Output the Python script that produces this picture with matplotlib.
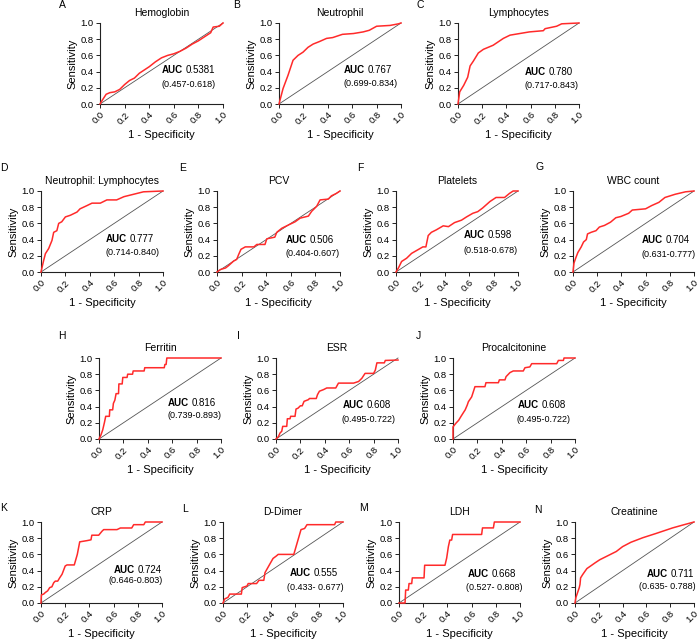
import matplotlib
matplotlib.use("Agg")
import matplotlib.pyplot as plt

plt.rcParams['font.family'] = ['Liberation Sans', 'DejaVu Sans']

# ROC data (1 - specificity, sensitivity)
hb_fpr = [0, 0.02, 0.05, 0.08, 0.12, 0.16, 0.2, 0.24, 0.28, 0.32, 0.36, 0.4, 0.45, 0.5, 0.55, 0.6, 0.65, 0.7, 0.75, 0.8, 0.85, 0.9, 0.92, 0.97, 1.0]
hb_tpr = [0, 0.05, 0.12, 0.14, 0.15, 0.18, 0.24, 0.29, 0.32, 0.38, 0.42, 0.46, 0.52, 0.57, 0.6, 0.62, 0.65, 0.69, 0.74, 0.78, 0.83, 0.88, 0.95, 0.96, 1.0]

neu_fpr = [0, 0.033, 0.074, 0.115, 0.156, 0.197, 0.238, 0.28, 0.33, 0.39, 0.44, 0.52, 0.61, 0.69, 0.74, 0.8, 0.91, 0.98, 1.0]
neu_tpr = [0, 0.19, 0.355, 0.54, 0.6, 0.64, 0.7, 0.74, 0.77, 0.81, 0.82, 0.86, 0.87, 0.89, 0.91, 0.96, 0.97, 0.99, 1.0]

lym_fpr = [0, 0.014, 0.047, 0.08, 0.1, 0.127, 0.168, 0.21, 0.29, 0.375, 0.43, 0.51, 0.59, 0.705, 0.72, 0.815, 0.857, 1.0]
lym_tpr = [0, 0.15, 0.23, 0.33, 0.47, 0.53, 0.63, 0.675, 0.725, 0.81, 0.85, 0.87, 0.89, 0.905, 0.93, 0.96, 0.99, 1.0]

nlr_fpr = [0, 0.022, 0.036, 0.063, 0.09, 0.104, 0.13, 0.145, 0.17, 0.2, 0.24, 0.295, 0.32, 0.377, 0.418, 0.486, 0.54, 0.62, 0.68, 0.76, 0.84, 1.0]
nlr_tpr = [0, 0.144, 0.226, 0.29, 0.39, 0.49, 0.51, 0.6, 0.62, 0.68, 0.7, 0.74, 0.78, 0.82, 0.85, 0.85, 0.89, 0.89, 0.93, 0.96, 0.99, 1.0]

pcv_fpr = [0, 0.027, 0.07, 0.095, 0.135, 0.16, 0.176, 0.195, 0.23, 0.3, 0.324, 0.39, 0.405, 0.47, 0.486, 0.527, 0.58, 0.635, 0.676, 0.743, 0.77, 0.81, 0.838, 0.905, 0.93, 0.97, 1.0]
pcv_tpr = [0, 0.03, 0.05, 0.08, 0.135, 0.155, 0.216, 0.28, 0.31, 0.31, 0.34, 0.34, 0.41, 0.43, 0.49, 0.54, 0.58, 0.62, 0.665, 0.69, 0.75, 0.81, 0.89, 0.9, 0.94, 0.97, 1.0]

plt_fpr = [0, 0.02, 0.046, 0.087, 0.128, 0.18, 0.22, 0.245, 0.264, 0.29, 0.33, 0.387, 0.43, 0.48, 0.537, 0.578, 0.63, 0.67, 0.71, 0.77, 0.82, 0.89, 0.93, 0.96, 1.0]
plt_tpr = [0, 0.05, 0.13, 0.17, 0.23, 0.275, 0.31, 0.31, 0.45, 0.49, 0.52, 0.57, 0.56, 0.61, 0.64, 0.68, 0.725, 0.745, 0.79, 0.87, 0.92, 0.92, 0.97, 1.0, 1.0]

wbc_fpr = [0, 0.008, 0.022, 0.04, 0.068, 0.087, 0.11, 0.12, 0.15, 0.19, 0.218, 0.26, 0.31, 0.354, 0.395, 0.46, 0.49, 0.6, 0.65, 0.71, 0.76, 0.845, 0.93, 1.0]
wbc_tpr = [0, 0.11, 0.17, 0.24, 0.31, 0.37, 0.4, 0.47, 0.49, 0.51, 0.555, 0.575, 0.615, 0.67, 0.685, 0.725, 0.765, 0.78, 0.82, 0.86, 0.92, 0.96, 0.99, 1.0]

fer_fpr = [0, 0.016, 0.03, 0.044, 0.055, 0.085, 0.088, 0.112, 0.118, 0.13, 0.14, 0.16, 0.163, 0.19, 0.195, 0.23, 0.235, 0.275, 0.28, 0.37, 0.375, 0.535, 0.54, 0.55, 0.556, 1.0]
fer_tpr = [0, 0.05, 0.11, 0.2, 0.28, 0.28, 0.36, 0.36, 0.44, 0.48, 0.56, 0.56, 0.68, 0.68, 0.76, 0.76, 0.8, 0.8, 0.84, 0.84, 0.88, 0.88, 0.92, 0.92, 1.0, 1.0]

esr_fpr = [0, 0.02, 0.033, 0.047, 0.055, 0.088, 0.093, 0.115, 0.12, 0.156, 0.164, 0.18, 0.2, 0.215, 0.23, 0.266, 0.274, 0.33, 0.34, 0.356, 0.39, 0.416, 0.49, 0.512, 0.636, 0.677, 0.704, 0.73, 0.8, 0.814, 0.827, 0.888, 0.896, 1.0]
esr_tpr = [0, 0.03, 0.074, 0.095, 0.156, 0.156, 0.25, 0.25, 0.28, 0.28, 0.37, 0.38, 0.41, 0.41, 0.465, 0.486, 0.5, 0.5, 0.547, 0.59, 0.61, 0.63, 0.63, 0.69, 0.69, 0.71, 0.75, 0.81, 0.81, 0.85, 0.94, 0.94, 0.97, 0.975]

pct_fpr = [0, 0, 0.027, 0.046, 0.066, 0.087, 0.1, 0.117, 0.126, 0.153, 0.167, 0.18, 0.262, 0.27, 0.372, 0.38, 0.426, 0.435, 0.467, 0.494, 0.576, 0.59, 0.63, 0.645, 0.85, 0.864, 0.905, 0.91, 1.0]
pct_tpr = [0, 0.15, 0.2, 0.23, 0.28, 0.33, 0.36, 0.42, 0.46, 0.52, 0.585, 0.646, 0.646, 0.695, 0.695, 0.73, 0.73, 0.77, 0.82, 0.84, 0.84, 0.88, 0.89, 0.93, 0.93, 0.97, 0.97, 1.0, 1.0]

crp_fpr = [0, 0.003, 0.022, 0.036, 0.055, 0.072, 0.09, 0.105, 0.118, 0.138, 0.154, 0.174, 0.2, 0.215, 0.275, 0.3, 0.32, 0.38, 0.413, 0.42, 0.477, 0.504, 0.518, 0.628, 0.656, 0.75, 0.766, 0.85, 0.862, 1.0]
crp_tpr = [0, 0.1, 0.11, 0.13, 0.15, 0.19, 0.2, 0.25, 0.27, 0.27, 0.31, 0.355, 0.457, 0.47, 0.47, 0.6, 0.755, 0.77, 0.78, 0.837, 0.837, 0.886, 0.906, 0.906, 0.926, 0.926, 0.967, 0.967, 1.0, 1.0]

dd_fpr = [0, 0.014, 0.042, 0.056, 0.153, 0.16, 0.2, 0.21, 0.28, 0.3, 0.34, 0.35, 0.39, 0.417, 0.444, 0.46, 0.59, 0.65, 0.68, 0.7, 0.93, 0.94, 1.0]
dd_tpr = [0, 0.05, 0.07, 0.11, 0.11, 0.19, 0.21, 0.24, 0.24, 0.28, 0.28, 0.375, 0.48, 0.55, 0.58, 0.6, 0.6, 0.906, 0.92, 0.967, 0.967, 1.0, 1.0]

ldh_fpr = [0, 0.05, 0.055, 0.077, 0.083, 0.105, 0.11, 0.207, 0.212, 0.38, 0.394, 0.408, 0.42, 0.435, 0.443, 0.683, 0.69, 0.78, 0.788, 1.0]
ldh_tpr = [0, 0, 0.16, 0.16, 0.24, 0.24, 0.31, 0.31, 0.466, 0.466, 0.555, 0.696, 0.777, 0.777, 0.846, 0.846, 0.927, 0.927, 1.0, 1.0]

cre_fpr = [0, 0.008, 0.022, 0.036, 0.042, 0.047, 0.064, 0.083, 0.1, 0.14, 0.167, 0.208, 0.264, 0.347, 0.4, 0.47, 0.57, 0.68, 0.82, 0.9, 1.0]
cre_tpr = [0, 0.07, 0.13, 0.19, 0.23, 0.31, 0.35, 0.39, 0.425, 0.466, 0.494, 0.534, 0.575, 0.636, 0.696, 0.75, 0.806, 0.858, 0.927, 0.96, 1.0]

letters = ['A', 'B', 'C', 'D', 'E', 'F', 'G', 'H', 'I', 'J', 'K', 'L', 'M', 'N']
titles = ['Hemoglobin', 'Neutrophil', 'Lymphocytes', 'Neutrophil: Lymphocytes', 'PCV',
          'Platelets', 'WBC count', 'Ferritin', 'ESR', 'Procalcitonine', 'CRP',
          'D-Dimer', 'LDH', 'Creatinine']
auc_vals = ['0.5381', '0.767', '0.780', '0.777', '0.506', '0.598', '0.704',
            '0.816', '0.608', '0.608', '0.724', '0.555', '0.668', '0.711']
ci_texts = ['(0.457-0.618)', '(0.699-0.834)', '(0.717-0.843)', '(0.714-0.840)',
            '(0.404-0.607)', '(0.518-0.678)', '(0.631-0.777)', '(0.739-0.893)',
            '(0.495-0.722)', '(0.495-0.722)', '(0.646-0.803)', '(0.433- 0.677)',
            '(0.527- 0.808)', '(0.635- 0.788)']
curves = [(hb_fpr, hb_tpr), (neu_fpr, neu_tpr), (lym_fpr, lym_tpr), (nlr_fpr, nlr_tpr),
          (pcv_fpr, pcv_tpr), (plt_fpr, plt_tpr), (wbc_fpr, wbc_tpr), (fer_fpr, fer_tpr),
          (esr_fpr, esr_tpr), (pct_fpr, pct_tpr), (crp_fpr, crp_tpr), (dd_fpr, dd_tpr),
          (ldh_fpr, ldh_tpr), (cre_fpr, cre_tpr)]

# layout in pixels: (left, right, top, bottom) of each axes
W, H = 700, 640
boxes = [(100, 223, 23, 104), (279, 401, 23, 104), (458, 579, 23, 104),
         (41, 163, 191, 272), (217, 340, 191, 272), (396, 518, 191, 272), (573, 694, 191, 272),
         (99, 221, 358, 439), (276, 398, 358, 439), (453, 575, 358, 439),
         (41, 162, 522, 603), (223, 343, 522, 603), (399, 520, 522, 603), (575, 694, 522, 603)]
# panel letter centres in pixels
letter_xy = [(62, 5), (237, 5), (420, 5),
             (4, 168), (183, 168), (360, 168), (540, 167),
             (62, 336), (238, 336), (418, 336),
             (4, 508), (185, 509), (363, 508), (538, 510)]
# AUC text anchor (x, y) in data units, and CI line x
auc_pos = [(0.505, 0.36), (0.53, 0.36), (0.55, 0.33), (0.527, 0.34), (0.56, 0.33),
           (0.556, 0.39), (0.57, 0.33), (0.56, 0.38), (0.55, 0.36), (0.527, 0.36),
           (0.6, 0.35), (0.56, 0.31), (0.57, 0.3), (0.6, 0.3)]
ci_pos = [(0.5, 0.18), (0.53, 0.2), (0.55, 0.175), (0.527, 0.18), (0.56, 0.17),
          (0.556, 0.21), (0.565, 0.16), (0.56, 0.23), (0.54, 0.18), (0.52, 0.18),
          (0.56, 0.22), (0.53, 0.14), (0.55, 0.14), (0.54, 0.15)]

fig = plt.figure(figsize=(7, 6.4), dpi=100)

ticks = [0.0, 0.2, 0.4, 0.6, 0.8, 1.0]
for i in range(14):
    l, r, t, b = boxes[i]
    ax = fig.add_axes([l / W, 1 - b / H, (r - l) / W, (b - t) / H])
    ax.plot([0, 1], [0, 1], color='#555555', lw=0.6, clip_on=False)
    fpr, tpr = curves[i]
    ax.plot(fpr, tpr, color='#ff2a2a', lw=1.1, clip_on=False, zorder=3)
    ax.set_xlim(0, 1)
    ax.set_ylim(0, 1)
    ax.set_xticks(ticks)
    ax.set_yticks(ticks)
    ax.set_xticklabels(['%.1f' % v for v in ticks], rotation=45, ha='right',
                       rotation_mode='anchor', fontsize=6.8)
    ax.set_yticklabels(['%.1f' % v for v in ticks], fontsize=6.8)
    ax.tick_params(direction='out', length=3, width=0.7, pad=1.5, color='#222222')
    for s in ['top', 'right']:
        ax.spines[s].set_visible(False)
    for s in ['left', 'bottom']:
        ax.spines[s].set_linewidth(0.8)
        ax.spines[s].set_color('#222222')
    ax.set_xlabel('1 - Specificity', fontsize=8, labelpad=3)
    ax.set_ylabel('Sensitivity', fontsize=8, labelpad=2)
    ax.set_title(titles[i], fontsize=7.5, pad=5)

    ax_, ay_ = auc_pos[i]
    lab = ax.text(ax_, ay_, 'AUC', fontsize=7, fontweight='bold', va='bottom')
    ax.annotate(auc_vals[i], xy=(1, 0), xycoords=lab, xytext=(2, 0),
                textcoords='offset points', fontsize=7, va='bottom')
    cx, cy = ci_pos[i]
    ax.text(cx, cy, ci_texts[i], fontsize=6.5, va='bottom')

    lx, ly = letter_xy[i]
    fig.text(lx / W, 1 - ly / H, letters[i], fontsize=7.5, ha='center', va='center')

fig.savefig('out.png', dpi=100)
